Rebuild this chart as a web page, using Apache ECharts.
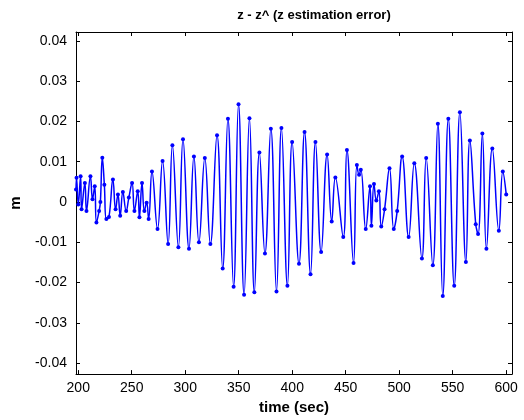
<!DOCTYPE html>
<html>
<head>
<meta charset="utf-8">
<script src="https://cdn.jsdelivr.net/npm/echarts@6/dist/echarts.min.js"></script>
<style>
html,body{margin:0;padding:0;background:#fff;}
#chart{width:524px;height:420px;}
</style>
</head>
<body>
<div id="chart"></div>
<script>
const times = [197.9,198.4,200.0,202.2,203.1,206.2,207.7,211.4,213.3,215.4,
217.0,219.5,220.7,222.5,224.4,226.3,228.7,232.4,234.9,237.1,
239.2,241.7,244.8,247.3,250.3,252.5,255.6,257.2,259.6,261.8,
263.9,265.8,268.9,274.1,278.8,284.0,288.0,293.6,297.9,303.5,
308.1,312.8,318.3,323.5,329.7,335.0,339.9,345.2,349.8,355.0,
360.0,364.6,369.3,374.5,380.0,385.3,389.9,395.5,399.9,406.3,
411.5,417.1,421.7,427.0,432.6,436.9,440.3,447.7,451.1,457.3,
460.4,462.5,464.1,468.7,472.7,474.0,476.4,478.6,481.0,483.2,
486.3,490.9,494.9,498.1,502.7,508.8,514.1,521.2,525.2,531.4,
536.1,540.7,545.9,551.4,556.7,562.3,566.0,571.5,573.7,577.7,
581.5,587.0,593.1,596.8,600.0];

const zError = [0.0031,0.006,-0.0006,0.0064,-0.0018,0.0047,-0.0022,0.0064,0.0007,0.0039,
-0.0051,-0.0022,0.0,0.011,0.0043,-0.0042,-0.0037,0.0056,-0.0018,0.0019,
-0.0034,0.0025,-0.0022,0.0011,0.0047,-0.0022,0.0027,-0.0038,0.0047,-0.0022,
-0.0002,-0.0042,0.0076,-0.0067,0.0102,-0.0104,0.0141,-0.0112,0.0156,-0.0116,
0.0113,-0.01,0.0109,-0.0104,0.0166,-0.0165,0.0207,-0.021,0.0243,-0.023,
0.0208,-0.0224,0.0123,-0.0128,0.0182,-0.0222,0.0184,-0.0208,0.0149,-0.0153,
0.0174,-0.0179,0.0149,-0.0124,0.0118,-0.0048,0.0061,-0.0087,0.0129,-0.0151,
0.0092,0.0068,0.008,-0.0067,0.0039,-0.0059,0.0045,0.0004,0.0027,-0.0061,
-0.0018,0.0084,-0.0067,-0.0022,0.0113,-0.0087,0.0096,-0.014,0.0109,-0.0157,
0.0194,-0.0233,0.0207,-0.0208,0.0223,-0.0149,0.0153,-0.0055,-0.0079,0.017,
-0.0116,0.0133,-0.0071,0.0076,0.0019];

const xTicks = [200,250,300,350,400,450,500,550,600];
const yTicks = [-0.04,-0.03,-0.02,-0.01,0,0.01,0.02,0.03,0.04];

const FONT = 'Liberation Sans';
const chart = echarts.init(document.getElementById('chart'), null, {renderer:'canvas'});

const axisLineStyle = {show:true, onZero:false, lineStyle:{color:'#000', width:1}};
const tickStyle = (vals)=>({show:true, inside:true, length:4, customValues:vals, lineStyle:{color:'#000', width:1}});

const fmtY = v => (Math.abs(v) < 1e-12 ? '0' : v.toFixed(2));

const option = {
  animation:false,
  backgroundColor:'#fff',
  title:{
    text:'z - z^ (z estimation error)',
    left:309, top:4, textAlign:'center',
    textStyle:{fontFamily:FONT, fontWeight:'bold', fontSize:13, color:'#000'}
  },
  grid:{left:73, right:12, top:32, bottom:42, show:false},
  xAxis:[{
    type:'value', min:197.9, max:605.4, position:'bottom',
    name:'time (sec)', nameLocation:'middle', nameGap:25,
    nameTextStyle:{fontFamily:FONT, fontWeight:'bold', fontSize:15, color:'#000'},
    axisLine:axisLineStyle, axisTick:tickStyle(xTicks),
    axisLabel:{show:true, customValues:xTicks, margin:7, fontFamily:FONT, fontSize:14, color:'#000'},
    splitLine:{show:false}
  },{
    type:'value', min:197.9, max:605.4, position:'top',
    axisLine:axisLineStyle, axisTick:tickStyle(xTicks),
    axisLabel:{show:false}, splitLine:{show:false}
  }],
  yAxis:[{
    type:'value', min:-0.0427, max:0.0422, position:'left',
    name:'m', nameLocation:'middle', nameGap:53, nameRotate:90,
    nameTextStyle:{fontFamily:FONT, fontWeight:'bold', fontSize:15, color:'#000'},
    axisLine:axisLineStyle, axisTick:tickStyle(yTicks),
    axisLabel:{show:true, customValues:yTicks, margin:9, fontFamily:FONT, fontSize:14, color:'#000', formatter:fmtY},
    splitLine:{show:false}
  },{
    type:'value', min:-0.0427, max:0.0422, position:'right',
    axisLine:axisLineStyle, axisTick:tickStyle(yTicks),
    axisLabel:{show:false}, splitLine:{show:false}
  }],
  series:[{
    type:'line',
    xAxisIndex:0, yAxisIndex:0,
    data: times.map((t,i)=>[t, zError[i]]),
    smooth:0.45,
    showSymbol:true, showAllSymbol:true,
    symbol:'circle', symbolSize:4,
    lineStyle:{color:'#0000ff', width:1.5},
    itemStyle:{color:'#0000ff', borderWidth:0},
    emphasis:{disabled:true}
  }]
};
chart.setOption(option);
</script>
</body>
</html>
